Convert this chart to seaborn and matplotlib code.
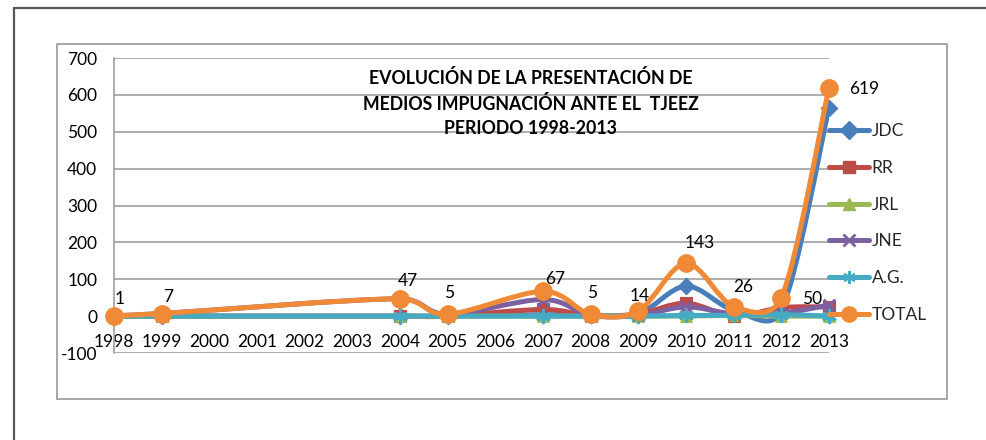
import numpy as np
import pandas as pd
import seaborn as sns
import matplotlib
matplotlib.use("Agg")
import matplotlib.pyplot as plt
from matplotlib.path import Path
from matplotlib.patches import PathPatch, Rectangle
from matplotlib.lines import Line2D

# ---------------- data ----------------
categories = [str(y) for y in range(1998, 2014)]
years = [1998, 1999, 2004, 2005, 2007, 2008, 2009, 2010, 2011, 2012, 2013]
jdc   = [0, 0, 0, 0, 4, 2, 6, 81, 16, 15, 564]
rr    = [0, 0, 0, 0, 18, 1, 6, 35, 0, 23, 25]
jrl   = [0, 0, 0, 0, 0, 0, 0, 0, 2, 0, 0]
jne   = [1, 7, 47, 5, 45, 2, 2, 25, 6, 8, 30]
ag    = [0, 0, 0, 0, 0, 0, 0, 2, 2, 4, 0]
total = [1, 7, 47, 5, 67, 5, 14, 143, 26, 50, 619]
series_names = ["JDC", "RR", "JRL", "JNE", "A.G.", "TOTAL"]
yticks = [-100, 0, 100, 200, 300, 400, 500, 600, 700]
title = "EVOLUCIÓN DE LA PRESENTACIÓN DE\nMEDIOS IMPUGNACIÓN ANTE EL  TJEEZ\nPERIODO 1998-2013"

# ---------------- style ----------------
sns.set_theme(style="white")
plt.rcParams["font.family"] = ["Lato", "DejaVu Sans"]
plt.rcParams["axes.unicode_minus"] = False

colors = {"JDC": "#4A7EBB", "RR": "#BE4B48", "JRL": "#98B954",
          "JNE": "#7D60A0", "A.G.": "#46AAC5", "TOTAL": "#F08A36"}
markers = {"JDC": "D", "RR": "s", "JRL": "^", "JNE": "x",
           "A.G.": (6, 2, 0), "TOTAL": "o"}
msizes = {"JDC": 70, "RR": 70, "JRL": 70, "JNE": 70, "A.G.": 80, "TOTAL": 160}
LW = 3.6
FS = 12.5

df = pd.DataFrame({"year": years, "JDC": jdc, "RR": rr, "JRL": jrl,
                   "JNE": jne, "A.G.": ag, "TOTAL": total})
long = df.melt(id_vars="year", var_name="serie", value_name="valor")

W, H = 987, 440
fig = plt.figure(figsize=(W / 100, H / 100), dpi=100)

# page borders
fig.add_artist(Line2D([14 / W, 1.0], [1 - 8 / H, 1 - 8 / H], color="#555555", lw=1.6))
fig.add_artist(Line2D([14 / W, 14 / W], [1 - 8 / H, 0], color="#555555", lw=1.6))
# chart area box
fig.add_artist(Rectangle((57 / W, 1 - 399 / H), (947 - 57) / W, (399 - 44) / H,
                         fill=False, ec="#A6A6A6", lw=1.4))

ax = fig.add_axes([114 / W, 1 - 353 / H, (829 - 114) / W, (353 - 58) / H])
ax.set_xlim(1998, 2013)
ax.set_ylim(-100, 700)
ax.set_yticks(yticks)
ax.set_xticks(range(1998, 2014))
ax.set_xticklabels(categories)
ax.yaxis.grid(True, color="#A0A0A0", lw=1.2)
ax.set_axisbelow(True)
for s in ["top", "right"]:
    ax.spines[s].set_visible(False)
ax.spines["left"].set_color("#A0A0A0")
ax.spines["left"].set_linewidth(1.2)
ax.spines["bottom"].set_position(("data", 0))
ax.spines["bottom"].set_color("#A0A0A0")
ax.spines["bottom"].set_linewidth(1.2)
ax.tick_params(axis="x", length=0, pad=13, labelsize=FS, colors="black")
ax.tick_params(axis="y", length=0, pad=12, labelsize=FS, colors="black")


def smooth_path(xs, ys):
    """Excel-like smoothed line: Bezier segments computed in screen space,
    control arms limited to half of the segment length."""
    pts = ax.transData.transform(np.column_stack([xs, ys]))
    n = len(pts)
    verts = [pts[0]]
    codes = [Path.MOVETO]
    for i in range(n - 1):
        p0 = pts[i - 1] if i > 0 else pts[i]
        p1 = pts[i]
        p2 = pts[i + 1]
        p3 = pts[i + 2] if i + 2 < n else pts[i + 1]
        half = np.linalg.norm(p2 - p1) / 2
        t1 = (p2 - p0) / 6
        t2 = (p3 - p1) / 6
        for t in (t1, t2):
            L = np.linalg.norm(t)
            if L > half and L > 0:
                t *= half / L
        verts += [p1 + t1, p2 - t2, p2]
        codes += [Path.CURVE4] * 3
    verts = ax.transData.inverted().transform(np.array(verts))
    return Path(verts, codes)


z = 3
for name in series_names:
    sub = long[long["serie"] == name]
    patch = PathPatch(smooth_path(sub["year"].to_numpy(float), sub["valor"].to_numpy(float)),
                      fill=False, ec=colors[name], lw=LW, zorder=z,
                      capstyle="round", joinstyle="round")
    ax.add_patch(patch)
    lw_m = 2.2 if name in ("JNE", "A.G.") else 0.8
    sns.scatterplot(data=sub, x="year", y="valor", ax=ax, marker=markers[name],
                    s=msizes[name], color=colors[name], edgecolor=colors[name],
                    linewidth=lw_m, zorder=z + 0.5, legend=False, clip_on=False)
    z += 1

ax.set_xlabel("")
ax.set_ylabel("")

# data labels for TOTAL (offsets in points)
label_offsets = [(4, 12), (5, 12), (6, 13), (1, 15), (9, 9), (1, 15),
                 (1, 11), (10, 15), (7, 14), (22, -1), (25, -1)]
for x, y, off in zip(years, total, label_offsets):
    ax.annotate(str(y), (x, y), xytext=off, textcoords="offset points",
                ha="center", va="center", fontsize=FS, color="black", zorder=20,
                annotation_clip=False)

# legend
handles = [Line2D([], [], color=colors[n], lw=LW, marker=markers[n],
                  markersize=9 if n != "TOTAL" else 11,
                  markeredgewidth=2 if n in ("JNE", "A.G.") else 1,
                  markeredgecolor=colors[n])
           for n in series_names]
fig.legend(handles, series_names, loc="center left",
           bbox_to_anchor=(829 / W, 1 - 223 / H), frameon=False,
           fontsize=FS, handlelength=2.3, handletextpad=0.15,
           labelspacing=1.2, borderpad=0, borderaxespad=0)

fig.text(531 / W, 1 - 103 / H, title, ha="center", va="center",
         fontsize=12.8, fontweight="bold", linespacing=1.5, color="black")

fig.savefig("out.png", dpi=100)
